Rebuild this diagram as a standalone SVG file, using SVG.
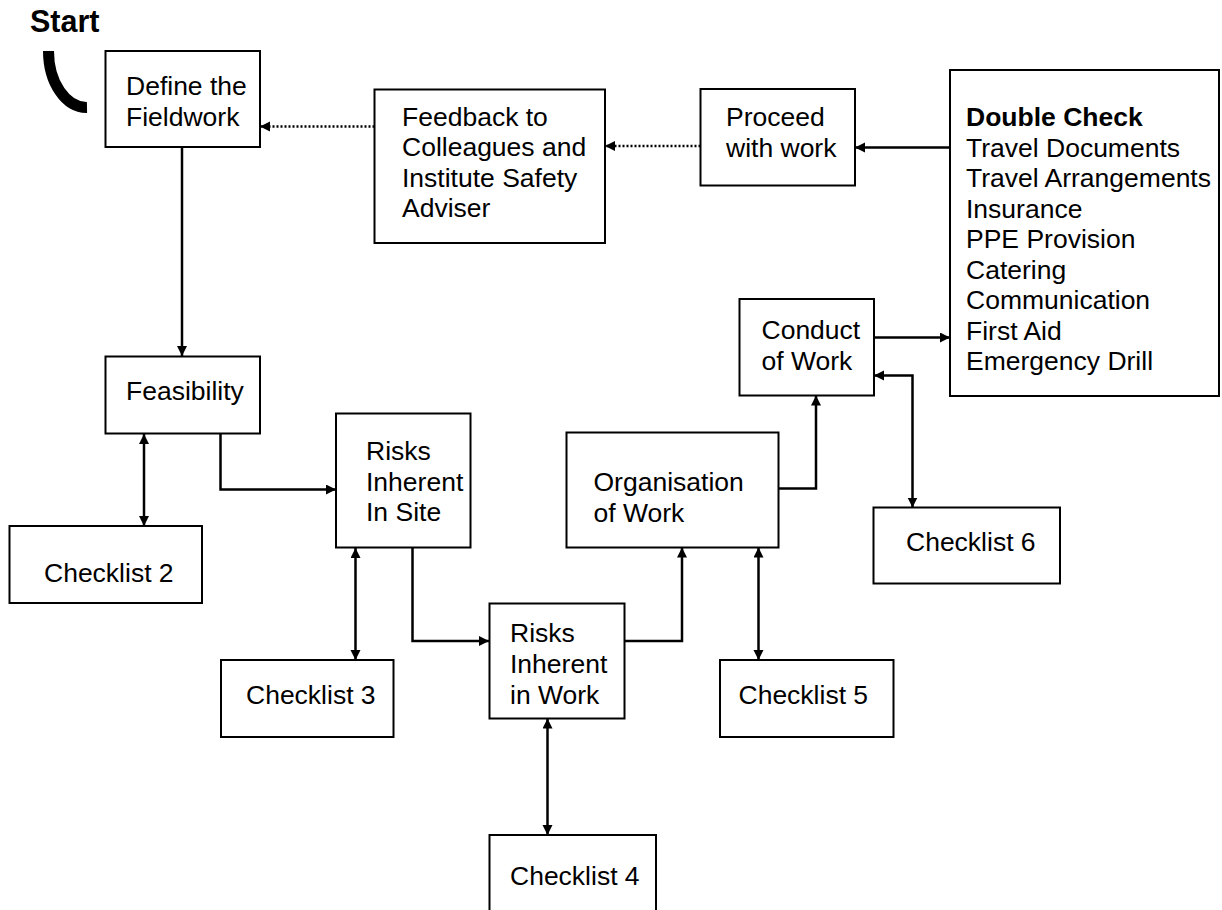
<svg xmlns="http://www.w3.org/2000/svg" width="1222" height="910" viewBox="0 0 1222 910">
<defs>
<style>
.box{fill:#fff;stroke:#000;stroke-width:2}
.t{font-family:"Liberation Sans",Arial,sans-serif;font-size:26.5px;fill:#000}
.b{font-weight:bold}
.c{fill:none;stroke:#000;stroke-width:2.5}
.d{fill:none;stroke:#000;stroke-width:2.5;stroke-dasharray:2 2}
</style>
<marker id="ah" markerUnits="userSpaceOnUse" markerWidth="11" markerHeight="11" refX="10" refY="5" orient="auto-start-reverse">
<path d="M0,0 L10,5 L0,10 z" fill="#000"/>
</marker>
</defs>
<rect width="1222" height="910" fill="#fff"/>

<g id="start">
<text class="t b" x="30" y="32" style="font-size:30.5px">Start</text>
<path d="M48.5,51 A38,56.5 0 0 0 87,107.5" fill="none" stroke="#000" stroke-width="11"/>
</g>

<g id="connectors">
<line class="c" x1="182" y1="147" x2="182" y2="356" marker-end="url(#ah)"/>
<line class="c" x1="144" y1="434" x2="144" y2="526" marker-start="url(#ah)" marker-end="url(#ah)"/>
<path class="c" d="M220.5,434 V489.5 H336" marker-end="url(#ah)"/>
<line class="c" x1="355.5" y1="548" x2="355.5" y2="660" marker-start="url(#ah)" marker-end="url(#ah)"/>
<path class="c" d="M412.5,548 V641 H489" marker-end="url(#ah)"/>
<line class="c" x1="547.5" y1="718.5" x2="547.5" y2="835" marker-start="url(#ah)" marker-end="url(#ah)"/>
<path class="c" d="M625,641 H682 V547.5" marker-end="url(#ah)"/>
<line class="c" x1="758.5" y1="547.5" x2="758.5" y2="660" marker-start="url(#ah)" marker-end="url(#ah)"/>
<path class="c" d="M778.5,488.5 H816 V395.5" marker-end="url(#ah)"/>
<path class="c" d="M874,375.5 H912.5 V507.5" marker-start="url(#ah)" marker-end="url(#ah)"/>
<line class="c" x1="874" y1="337.5" x2="950" y2="337.5" marker-end="url(#ah)"/>
<line class="c" x1="950" y1="147.5" x2="855" y2="147.5" marker-end="url(#ah)"/>
<line class="d" x1="700.5" y1="146" x2="605" y2="146" marker-end="url(#ah)"/>
<line class="d" x1="374.5" y1="126.5" x2="260" y2="126.5" marker-end="url(#ah)"/>
</g>

<g id="define">
<rect class="box" x="105.5" y="51" width="154.5" height="96"/>
<text class="t" x="126" y="95">Define the</text>
<text class="t" x="126" y="126">Fieldwork</text>
</g>

<g id="feedback">
<rect class="box" x="374.5" y="89.5" width="230.5" height="153.5"/>
<text class="t" x="402" y="125.5">Feedback to</text>
<text class="t" x="402" y="156">Colleagues and</text>
<text class="t" x="402" y="186.5">Institute Safety</text>
<text class="t" x="402" y="217">Adviser</text>
</g>

<g id="proceed">
<rect class="box" x="700.5" y="89" width="154.5" height="96.5"/>
<text class="t" x="726" y="125.5">Proceed</text>
<text class="t" x="726" y="156.5">with work</text>
</g>

<g id="doublecheck">
<rect class="box" x="950" y="70" width="269" height="326"/>
<text class="t b" x="966" y="126">Double Check</text>
<text class="t" x="966" y="156.5">Travel Documents</text>
<text class="t" x="966" y="187">Travel Arrangements</text>
<text class="t" x="966" y="217.5">Insurance</text>
<text class="t" x="966" y="248">PPE Provision</text>
<text class="t" x="966" y="278.5">Catering</text>
<text class="t" x="966" y="309">Communication</text>
<text class="t" x="966" y="339.5">First Aid</text>
<text class="t" x="966" y="370">Emergency Drill</text>
</g>

<g id="feasibility">
<rect class="box" x="105.5" y="356.5" width="154.5" height="77"/>
<text class="t" x="126" y="400">Feasibility</text>
</g>

<g id="checklist2">
<rect class="box" x="9.5" y="526" width="192.5" height="77"/>
<text class="t" x="44" y="582">Checklist 2</text>
</g>

<g id="risks-site">
<rect class="box" x="336" y="413.5" width="134.5" height="134"/>
<text class="t" x="366" y="460">Risks</text>
<text class="t" x="366" y="491">Inherent</text>
<text class="t" x="366" y="521">In Site</text>
</g>

<g id="checklist3">
<rect class="box" x="221" y="660" width="172.5" height="77"/>
<text class="t" x="246" y="703.5">Checklist 3</text>
</g>

<g id="risks-work">
<rect class="box" x="489.5" y="603.5" width="135" height="115"/>
<text class="t" x="510" y="642">Risks</text>
<text class="t" x="510" y="673">Inherent</text>
<text class="t" x="510" y="703.5">in Work</text>
</g>

<g id="checklist4">
<rect class="box" x="489.5" y="835" width="166.5" height="100"/>
<text class="t" x="510" y="885">Checklist 4</text>
</g>

<g id="organisation">
<rect class="box" x="566.5" y="432.5" width="212" height="115"/>
<text class="t" x="593.5" y="491">Organisation</text>
<text class="t" x="593.5" y="521.5">of Work</text>
</g>

<g id="checklist5">
<rect class="box" x="720" y="660" width="173.5" height="77"/>
<text class="t" x="738.5" y="703.5">Checklist 5</text>
</g>

<g id="conduct">
<rect class="box" x="739.5" y="299" width="134.5" height="96.5"/>
<text class="t" x="761.5" y="339">Conduct</text>
<text class="t" x="761.5" y="369.5">of Work</text>
</g>

<g id="checklist6">
<rect class="box" x="873.5" y="507.5" width="186.5" height="76"/>
<text class="t" x="906" y="551">Checklist 6</text>
</g>
</svg>
